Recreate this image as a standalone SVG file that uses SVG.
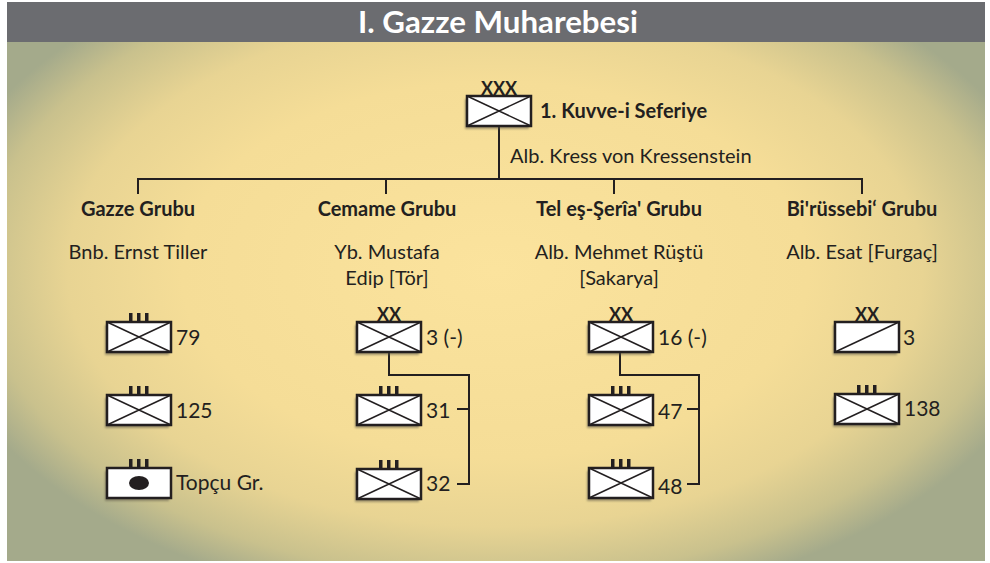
<svg xmlns="http://www.w3.org/2000/svg" xmlns:xlink="http://www.w3.org/1999/xlink" width="990" height="563" viewBox="0 0 990 563">
  <style>
    .title { font-family: Lato, "Open Sans", sans-serif; font-weight: 700; font-size: 30px; fill: #ffffff; }
    .hdr { font-family: Lato, "Open Sans", sans-serif; font-weight: 700; font-size: 20px; fill: #231f20; }
    .txt { font-family: Lato, "Open Sans", sans-serif; font-weight: 400; font-size: 20px; fill: #231f20; }
    .lbl { font-family: Lato, "Open Sans", sans-serif; font-weight: 400; font-size: 21px; fill: #231f20; }
    .ech { font-family: Lato, "Open Sans", sans-serif; font-weight: 700; font-size: 18px; fill: #231f20; }
    .box { fill: #ffffff; stroke: #231f20; stroke-width: 2.5; }
    .diag { fill: none; stroke: #231f20; stroke-width: 1.5; }
    .shadow { fill: #5e5a4a; opacity: 0.55; }
    .conn { fill: none; stroke: #231f20; stroke-width: 2; }
    .bar { fill: #231f20; }
  </style>
  <defs>
    <radialGradient id="bg" gradientUnits="userSpaceOnUse" cx="495" cy="270" r="570" gradientTransform="translate(495 270) scale(1 0.6) translate(-495 -270)">
      <stop offset="0" stop-color="#fbe39d"/>
      <stop offset="0.55" stop-color="#f5dd97"/>
      <stop offset="0.75" stop-color="#e8d493"/>
      <stop offset="0.9" stop-color="#c9c18d"/>
      <stop offset="1" stop-color="#a4aa8b"/>
    </radialGradient>
    <filter id="blur" x="-20%" y="-20%" width="140%" height="160%">
      <feGaussianBlur stdDeviation="1"/>
    </filter>
    <g id="shadowBox">
      <rect x="-2" y="3" width="64" height="30" class="shadow" filter="url(#blur)"/>
    </g>
    <g id="boxX">
      <use xlink:href="#shadowBox"/>
      <rect x="0" y="0" width="64" height="30" class="box"/>
      <path d="M0 0 L64 30 M64 0 L0 30" class="diag"/>
    </g>
    <g id="iii">
      <rect x="22" y="-9" width="3.5" height="9" class="bar"/>
      <rect x="30" y="-9" width="3.5" height="9" class="bar"/>
      <rect x="38" y="-9" width="3.5" height="9" class="bar"/>
    </g>
  </defs>

  <g id="background">
    <rect x="7" y="2" width="978" height="559" fill="url(#bg)"/>
    <rect x="7" y="2" width="978" height="40" fill="#6b6c70"/>
    <text class="title" x="498" y="33" text-anchor="middle" textLength="280" lengthAdjust="spacingAndGlyphs">I. Gazze Muharebesi</text>
  </g>

  <g id="connectors">
    <path class="conn" d="M499 126 V179"/>
    <path class="conn" d="M138 194 V179 H862 V194"/>
    <path class="conn" d="M386 179 V194"/>
    <path class="conn" d="M614 179 V194"/>
    <path class="conn" d="M389 352 V375 H469 V484 H457"/>
    <path class="conn" d="M457 409 H469"/>
    <path class="conn" d="M620 352 V375 H699 V484 H687"/>
    <path class="conn" d="M687 409 H699"/>
  </g>

  <g id="kuvve">
    <use xlink:href="#boxX" x="467" y="96"/>
    <text class="ech" x="499" y="95" text-anchor="middle">XXX</text>
    <text class="hdr" x="540" y="118">1. Kuvve-i Seferiye</text>
    <text class="txt" x="510" y="163">Alb. Kress von Kressenstein</text>
  </g>

  <g id="gazze">
    <text class="hdr" x="138" y="216" text-anchor="middle">Gazze Grubu</text>
    <text class="txt" x="138" y="259" text-anchor="middle">Bnb. Ernst Tiller</text>
  </g>
  <g id="gazze-79">
    <use xlink:href="#boxX" x="107" y="322"/>
    <use xlink:href="#iii" x="107" y="322"/>
    <text class="lbl" x="176" y="345">79</text>
  </g>
  <g id="gazze-125">
    <use xlink:href="#boxX" x="107" y="395"/>
    <use xlink:href="#iii" x="107" y="395"/>
    <text class="lbl" x="176" y="418">125</text>
  </g>
  <g id="gazze-topcu">
    <use xlink:href="#shadowBox" x="107" y="468"/>
    <rect x="107" y="468" width="64" height="30" class="box"/>
    <use xlink:href="#iii" x="107" y="468"/>
    <ellipse cx="139" cy="483" rx="10" ry="7" fill="#231f20"/>
    <text class="lbl" x="176" y="490">Topçu Gr.</text>
  </g>

  <g id="cemame">
    <text class="hdr" x="387" y="216" text-anchor="middle">Cemame Grubu</text>
    <text class="txt" x="387" y="259" text-anchor="middle">Yb. Mustafa</text>
    <text class="txt" x="387" y="285" text-anchor="middle">Edip [Tör]</text>
  </g>
  <g id="cemame-3">
    <use xlink:href="#boxX" x="357" y="322"/>
    <text class="ech" x="389" y="321" text-anchor="middle">XX</text>
    <text class="lbl" x="426" y="345">3 (-)</text>
  </g>
  <g id="cemame-31">
    <use xlink:href="#boxX" x="357" y="395"/>
    <use xlink:href="#iii" x="357" y="395"/>
    <text class="lbl" x="426" y="418">31</text>
  </g>
  <g id="cemame-32">
    <use xlink:href="#boxX" x="357" y="469"/>
    <use xlink:href="#iii" x="357" y="469"/>
    <text class="lbl" x="426" y="491">32</text>
  </g>

  <g id="tel">
    <text class="hdr" x="619" y="216" text-anchor="middle">Tel eş-Şerîa' Grubu</text>
    <text class="txt" x="619" y="259" text-anchor="middle">Alb. Mehmet Rüştü</text>
    <text class="txt" x="619" y="285" text-anchor="middle">[Sakarya]</text>
  </g>
  <g id="tel-16">
    <use xlink:href="#boxX" x="589" y="322"/>
    <text class="ech" x="621" y="321" text-anchor="middle">XX</text>
    <text class="lbl" x="658" y="345">16 (-)</text>
  </g>
  <g id="tel-47">
    <use xlink:href="#boxX" x="589" y="395"/>
    <use xlink:href="#iii" x="589" y="395"/>
    <text class="lbl" x="658" y="419">47</text>
  </g>
  <g id="tel-48">
    <use xlink:href="#boxX" x="589" y="468"/>
    <use xlink:href="#iii" x="589" y="468"/>
    <text class="lbl" x="658" y="494">48</text>
  </g>

  <g id="birussebi">
    <text class="hdr" x="862" y="216" text-anchor="middle">Bi'rüssebi‘ Grubu</text>
    <text class="txt" x="862" y="259" text-anchor="middle">Alb. Esat [Furgaç]</text>
  </g>
  <g id="birussebi-3">
    <use xlink:href="#shadowBox" x="835" y="322"/>
    <rect x="835" y="322" width="64" height="30" class="box"/>
    <path d="M835 352 L899 322" class="diag"/>
    <text class="ech" x="867" y="321" text-anchor="middle">XX</text>
    <text class="lbl" x="903" y="345">3</text>
  </g>
  <g id="birussebi-138">
    <use xlink:href="#boxX" x="835" y="394"/>
    <use xlink:href="#iii" x="835" y="394"/>
    <text class="lbl" x="904" y="416">138</text>
  </g>
</svg>
